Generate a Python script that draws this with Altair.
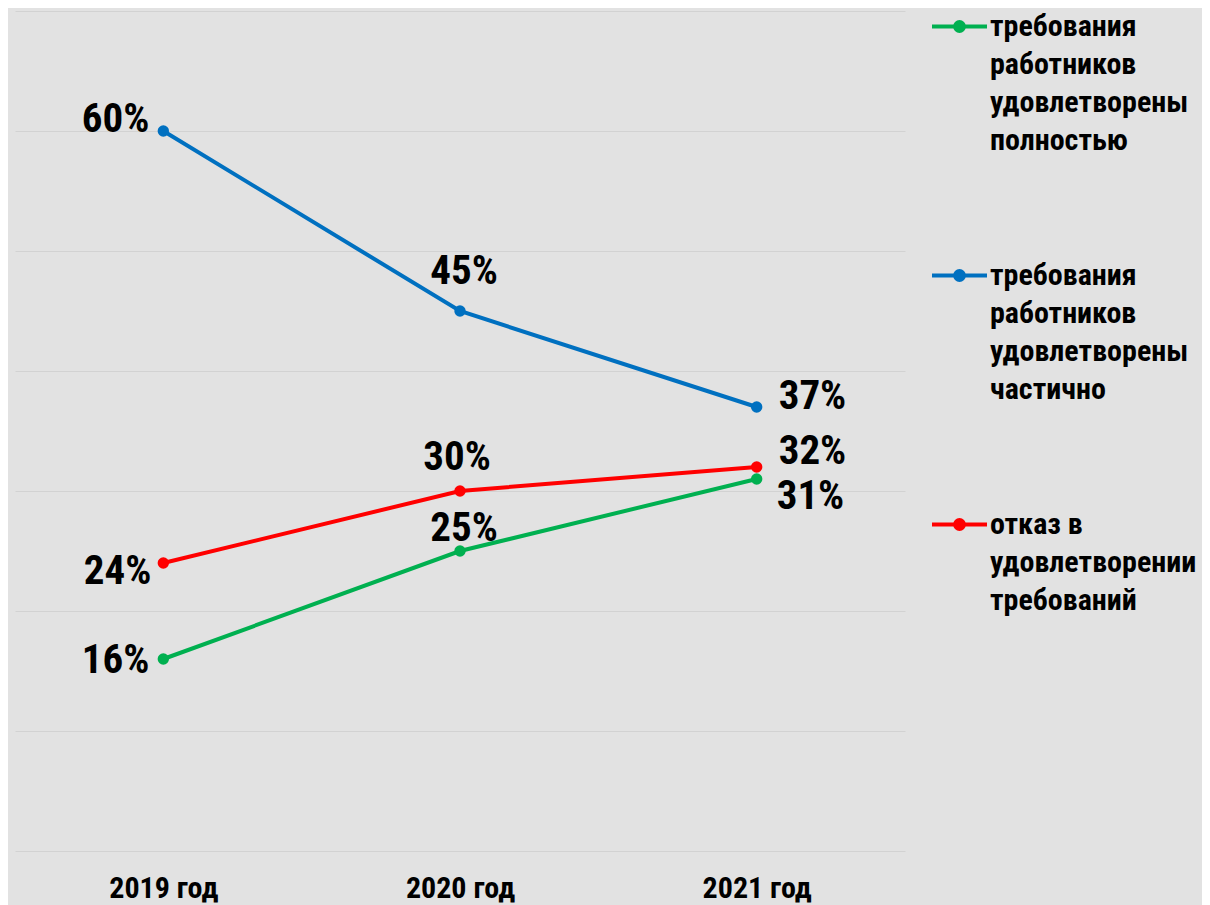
import altair as alt
import pandas as pd

years = ["2019 год", "2020 год", "2021 год"]
series = [
    "требования работников удовлетворены полностью",
    "требования работников удовлетворены частично",
    "отказ\u00a0в удовлетворении требований",
]
full_vals = [16, 25, 31]
partial_vals = [60, 45, 37]
refused_vals = [24, 30, 32]
colors = ["#00b050", "#0070c0", "#ff0000"]

rows = []
for s, vals in zip(series, [full_vals, partial_vals, refused_vals]):
    for y, v in zip(years, vals):
        rows.append({"year": y, "series": s, "value": v, "label": f"{v}%"})
df = pd.DataFrame(rows)

# label placement (styling): (dx, dy, align) per series index / year index
label_style = {
    (0, 0): (-14, 2, "right"), (0, 1): (4, -22, "center"), (0, 2): (20, 18, "left"),
    (1, 0): (-14, -11, "right"), (1, 1): (4, -39, "center"), (1, 2): (22, -10, "left"),
    (2, 0): (-12, 9, "right"), (2, 1): (-3, -33, "center"), (2, 2): (22, -15, "left"),
}

FONT = "Liberation Sans Narrow, Arial Narrow, Roboto Condensed, DejaVu Sans Condensed, Liberation Sans, Arial, sans-serif"

x_enc = alt.X("year:N", sort=years, scale=alt.Scale(type="point", padding=0.5),
              axis=alt.Axis(title=None, labelAngle=0, ticks=False, domain=False, grid=False,
                            labelFont=FONT, labelFontSize=30, labelFontWeight="bold",
                            labelColor="#000000", labelPadding=22))
y_enc = alt.Y("value:Q", scale=alt.Scale(domain=[0, 70], nice=False, zero=True),
              axis=alt.Axis(title=None, labels=False, ticks=False, domain=False, grid=True,
                            values=[0, 10, 20, 30, 40, 50, 60, 70],
                            gridColor="#d2d2d2", gridWidth=1.2))
color_enc = alt.Color("series:N", sort=series,
                      scale=alt.Scale(domain=series, range=colors),
                      legend=alt.Legend(title=None, orient="none", legendX=915, legendY=-14,
                                        labelExpr="split(datum.label, ' ')"))

base = alt.Chart(df)
lines = base.mark_line(strokeWidth=4, point=alt.OverlayMarkDef(filled=True, size=130)).encode(
    x=x_enc, y=y_enc, color=color_enc)

layers = [lines]
for (si, yi), (dx, dy, align) in label_style.items():
    layers.append(
        base.transform_filter(
            (alt.datum.series == series[si]) & (alt.datum.year == years[yi])
        ).mark_text(dx=dx, dy=dy, align=align, baseline="middle", font=FONT,
                    fontSize=41, fontWeight="bold", color="#000000").encode(
            x=alt.X("year:N", sort=years), y=alt.Y("value:Q"), text="label:N")
    )

sym = "M-1,0L1,0M0.16,0A0.16,0.16,0,1,1,-0.16,0A0.16,0.16,0,1,1,0.16,0Z"

chart = alt.layer(*layers).properties(
    width=890, height=840,
    autosize=alt.AutoSizeParams(type="none"),
    padding={"left": 7, "top": 3, "right": 297, "bottom": 54},
    background="#e2e2e2",
).configure(style={"guide-label": {"lineHeight": 38}}).configure_view(strokeWidth=0).configure_legend(
    symbolType=sym, symbolSize=3025, symbolStrokeWidth=4,
    labelFont=FONT, labelFontSize=30, labelFontWeight="bold", labelColor="#000000",
    labelLimit=400, rowPadding=90, labelOffset=1, padding=0, labelBaseline="middle",
)

chart.save("out.html", embed_options={"renderer": "svg", "actions": False})
